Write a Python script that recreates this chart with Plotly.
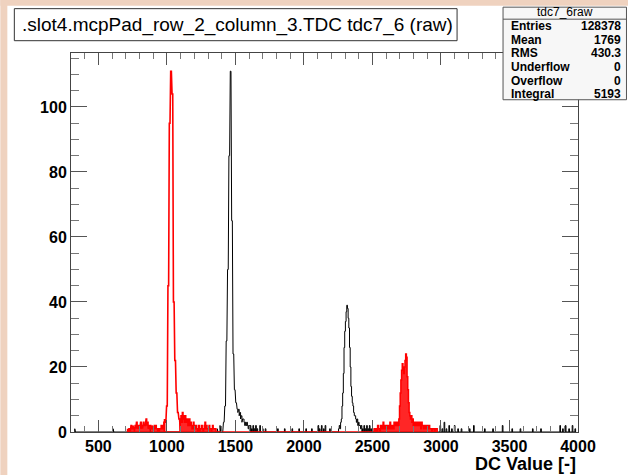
import plotly.graph_objects as go

# ---------------- data: histogram counts, bin width 5, segments start at given value ----------------
BIN_W = 5

red_a_start = 715
red_a_counts = [1, 0, 1, 1, 0, 2, 1, 1, 2, 1, 0, 2, 1, 3, 1, 2, 1, 2, 1, 3, 1, 2, 1, 3, 2, 2, 3, 4, 2,
                3, 1, 2, 1, 2, 1, 1, 2, 1, 0, 2, 1, 2, 1, 1, 0, 1, 0, 1, 1, 2, 1, 1, 2, 3]
red_peak1_start = 985
red_peak1_counts = [4, 3, 5, 8, 20, 45, 68, 95, 108, 111, 109, 104, 70,
                    40, 30, 22, 16, 12, 8, 6, 5, 4, 3]
red_b_start = 1100
red_b_counts = [4, 5, 3, 6, 5, 4, 3, 5, 4, 3, 4, 2, 3, 4, 2, 3, 2, 1, 2, 3, 1, 2, 1, 2, 1, 0, 1, 2,
                0, 1, 1, 2, 1, 0, 1, 2, 3, 1, 2, 1, 1, 0, 2, 1, 1, 0, 1, 2, 1, 1, 1, 1]
red_c_start = 2515
red_c_counts = [1, 0, 1, 1, 0, 2, 1, 1, 0, 2, 1, 1, 2, 3, 1, 1, 2, 2, 1, 1, 2, 2, 1, 3, 2, 1, 2, 2,
                1, 3, 2, 2, 3, 2, 3, 2, 4]
red_peak2_start = 2700
red_peak2_counts = [8, 12, 16, 19, 21, 20, 18, 20, 22, 24, 23, 17,
                    13, 9, 6, 5, 4, 5, 3, 4, 2]
red_d_start = 2805
red_d_counts = [3, 2, 3, 2, 3, 3, 2, 2, 3, 2, 1, 3, 2, 2, 1, 2, 2, 1, 1, 2, 1, 1, 2, 1, 1, 1, 0,
                1, 1, 1, 0, 1, 1, 1]

black_peak1_start = 1410
black_peak1_counts = [2, 3, 5, 8, 15, 28, 38, 50, 63, 85, 105, 111,
                      98, 65, 38, 24, 18, 13, 11, 9, 8, 7, 6, 7,
                      5, 6, 4, 5, 3, 4, 4, 3, 2, 3, 2, 3, 2, 1, 2, 0, 2, 0, 1, 0, 2, 0, 1, 0, 2,
                      0, 1, 0, 0, 0, 2, 0, 0, 0, 1, 0, 0, 0, 1]
black_peak2_start = 2255
black_peak2_counts = [1, 2, 1, 3, 4, 8, 12, 18, 26, 31, 34, 37,
                      39, 38, 35, 32, 26, 20, 14, 11, 9, 8, 6, 5,
                      5, 4, 3, 4, 2, 3, 2, 2, 1, 2, 0, 1, 0, 2, 0, 1, 0, 2, 0, 1, 0, 2, 0, 1, 0, 1]
# isolated background counts (value, count)
black_noise_x = [330, 610, 880, 1370, 1390, 1810, 1860, 1915, 1965, 2016, 2058, 2105, 2115, 2130,
                 2145, 2157, 2190, 2995, 3010, 3025, 3040, 3060, 3080, 3100, 3125, 3150, 3210,
                 3240, 3320, 3380, 3450, 3520, 3580, 3670, 3730, 3870, 3890, 3910, 3935, 3960,
                 3980]
black_noise_y = [1, 1, 1, 1, 2, 1, 1, 1, 1, 1, 1, 2, 1, 2, 1, 2, 1, 2, 1, 3, 1, 2, 1, 2, 1, 1, 1,
                 2, 1, 1, 2, 1, 1, 1, 1, 2, 1, 2, 1, 2, 1]

stats_names = ["Entries", "Mean", "RMS", "Underflow", "Overflow", "Integral"]
stats_vals = ["128378", "1769", "430.3", "0", "0", "5193"]

TITLE = ".slot4.mcpPad_row_2_column_3.TDC tdc7_6 (raw)"
STATS_TITLE = "tdc7_6raw"
X_TITLE = "DC Value [-]"


def segment(start, counts):
    return [start + BIN_W * i for i in range(len(counts))], list(counts)


def step_path(centres, counts, w):
    xs, ys = [], []
    prev_right = None
    for c, n in sorted(zip(centres, counts)):
        left, right = c - w / 2, c + w / 2
        if prev_right is None or abs(prev_right - left) > 1e-9:
            if prev_right is not None:
                xs.append(prev_right); ys.append(0)
            xs.append(left); ys.append(0)
        xs.append(left); ys.append(n)
        xs.append(right); ys.append(n)
        prev_right = right
    xs.append(prev_right); ys.append(0)
    return xs, ys


# red: filled background/second peak, outlined first peak
redf_x, redf_y = [], []
for s, c in [(red_a_start, red_a_counts), (red_b_start, red_b_counts), (red_c_start, red_c_counts),
             (red_peak2_start, red_peak2_counts), (red_d_start, red_d_counts)]:
    xx, yy = segment(s, c)
    redf_x += xx; redf_y += yy
redp_x, redp_y = segment(red_peak1_start, red_peak1_counts)

black_x, black_y = list(black_noise_x), list(black_noise_y)
for s, c in [(black_peak1_start, black_peak1_counts), (black_peak2_start, black_peak2_counts)]:
    xx, yy = segment(s, c)
    black_x += xx; black_y += yy

W, H = 628, 475
L, R, T, B = 70.7, 578.0, 53.3, 432.0
PW, PH = R - L, B - T


def px(x):
    return (x - L) / PW


def py(y):
    return (B - y) / PH


fig = go.Figure()
bx, by = step_path(black_x, black_y, BIN_W)
fig.add_trace(go.Scatter(x=bx, y=by, mode="lines", line=dict(color="black", width=1),
                         hoverinfo="skip", showlegend=False))
rx, ry = step_path(redf_x, redf_y, BIN_W)
fig.add_trace(go.Scatter(x=rx, y=ry, mode="lines", line=dict(color="#ff0000", width=1.5),
                         fill="tozeroy", fillcolor="rgba(255,0,0,0.85)",
                         hoverinfo="skip", showlegend=False))
px1, py1 = step_path(redp_x, redp_y, BIN_W)
fig.add_trace(go.Scatter(x=px1, y=py1, mode="lines", line=dict(color="#ff0000", width=1.6),
                         hoverinfo="skip", showlegend=False))

axis_font = dict(family="Liberation Sans, Arial, sans-serif", size=16, color="black")
xt = [500, 1000, 1500, 2000, 2500, 3000, 3500, 4000]
yt = [0, 20, 40, 60, 80, 100]
fig.update_xaxes(range=[300, 4000], showline=True, linecolor="#444", linewidth=1,
                 mirror="ticks", ticks="inside", ticklen=12, tickcolor="#555",
                 tickmode="array", tickvals=xt, ticktext=["<b>%d</b>" % v for v in xt],
                 tickfont=axis_font, showgrid=False, zeroline=False,
                 minor=dict(ticks="inside", ticklen=6, dtick=100, tick0=0, tickcolor="#777"))
fig.update_yaxes(range=[0, 116.6], showline=True, linecolor="#444", linewidth=1,
                 mirror="ticks", ticks="inside", ticklen=16, tickcolor="#555",
                 tickmode="array", tickvals=yt, ticktext=["<b>%d</b>" % v for v in yt],
                 tickfont=axis_font, showgrid=False, zeroline=False,
                 minor=dict(ticks="inside", ticklen=8, dtick=5, tick0=0, tickcolor="#777"))

shapes = []
annotations = []
# pink page border (left and top)
shapes.append(dict(type="rect", xref="paper", yref="paper", x0=px(0), x1=px(7), y0=py(475), y1=py(0),
                   fillcolor="#EFD2BF", line=dict(width=0), layer="below"))
shapes.append(dict(type="rect", xref="paper", yref="paper", x0=px(0), x1=px(628), y0=py(6), y1=py(0),
                   fillcolor="#EFD2BF", line=dict(width=0), layer="below"))
# title box
shapes.append(dict(type="rect", xref="paper", yref="paper", x0=px(14), x1=px(457), y0=py(41), y1=py(9),
                   fillcolor="white", line=dict(color="#333", width=1)))
annotations.append(dict(text=TITLE, xref="paper", yref="paper", x=px(237), y=py(25),
                        xanchor="center", yanchor="middle", showarrow=False,
                        font=dict(family="Liberation Sans, Arial, sans-serif", size=19, color="black")))
# stats box
shapes.append(dict(type="rect", xref="paper", yref="paper", x0=px(503), x1=px(626.5), y0=py(100), y1=py(7.5),
                   fillcolor="#F7F7F7", line=dict(color="#555", width=1)))
shapes.append(dict(type="line", xref="paper", yref="paper", x0=px(503), x1=px(626.5), y0=py(19.5), y1=py(19.5),
                   line=dict(color="#555", width=1)))
sfont = dict(family="Liberation Sans, Arial, sans-serif", size=12, color="black")
annotations.append(dict(text=STATS_TITLE, xref="paper", yref="paper", x=px(565), y=py(12.2),
                        xanchor="center", yanchor="middle", showarrow=False, font=sfont))
row_y = [26.3, 40.0, 53.7, 67.6, 81.2, 94.7]
for name, val, yy in zip(stats_names, stats_vals, row_y):
    annotations.append(dict(text="<b>%s</b>" % name, xref="paper", yref="paper", x=px(508.5), y=py(yy),
                            xanchor="left", yanchor="middle", showarrow=False, font=sfont))
    annotations.append(dict(text="<b>%s</b>" % val, xref="paper", yref="paper", x=px(623.5), y=py(yy),
                            xanchor="right", yanchor="middle", showarrow=False, font=sfont))
# x axis title
annotations.append(dict(text="<b>%s</b>" % X_TITLE, xref="paper", yref="paper", x=px(578.5), y=py(464),
                        xanchor="right", yanchor="middle", showarrow=False,
                        font=dict(family="Liberation Sans, Arial, sans-serif", size=18, color="black")))

fig.update_layout(width=W, height=H, margin=dict(l=L, r=W - R, t=T, b=H - B, pad=0),
                  paper_bgcolor="white", plot_bgcolor="white",
                  shapes=shapes, annotations=annotations, showlegend=False)

fig.write_html("out.html", config={"displayModeBar": False, "staticPlot": True},
               post_script="document.body.style.margin='0';document.body.style.padding='0';"
                           "document.documentElement.style.overflow='hidden';")
